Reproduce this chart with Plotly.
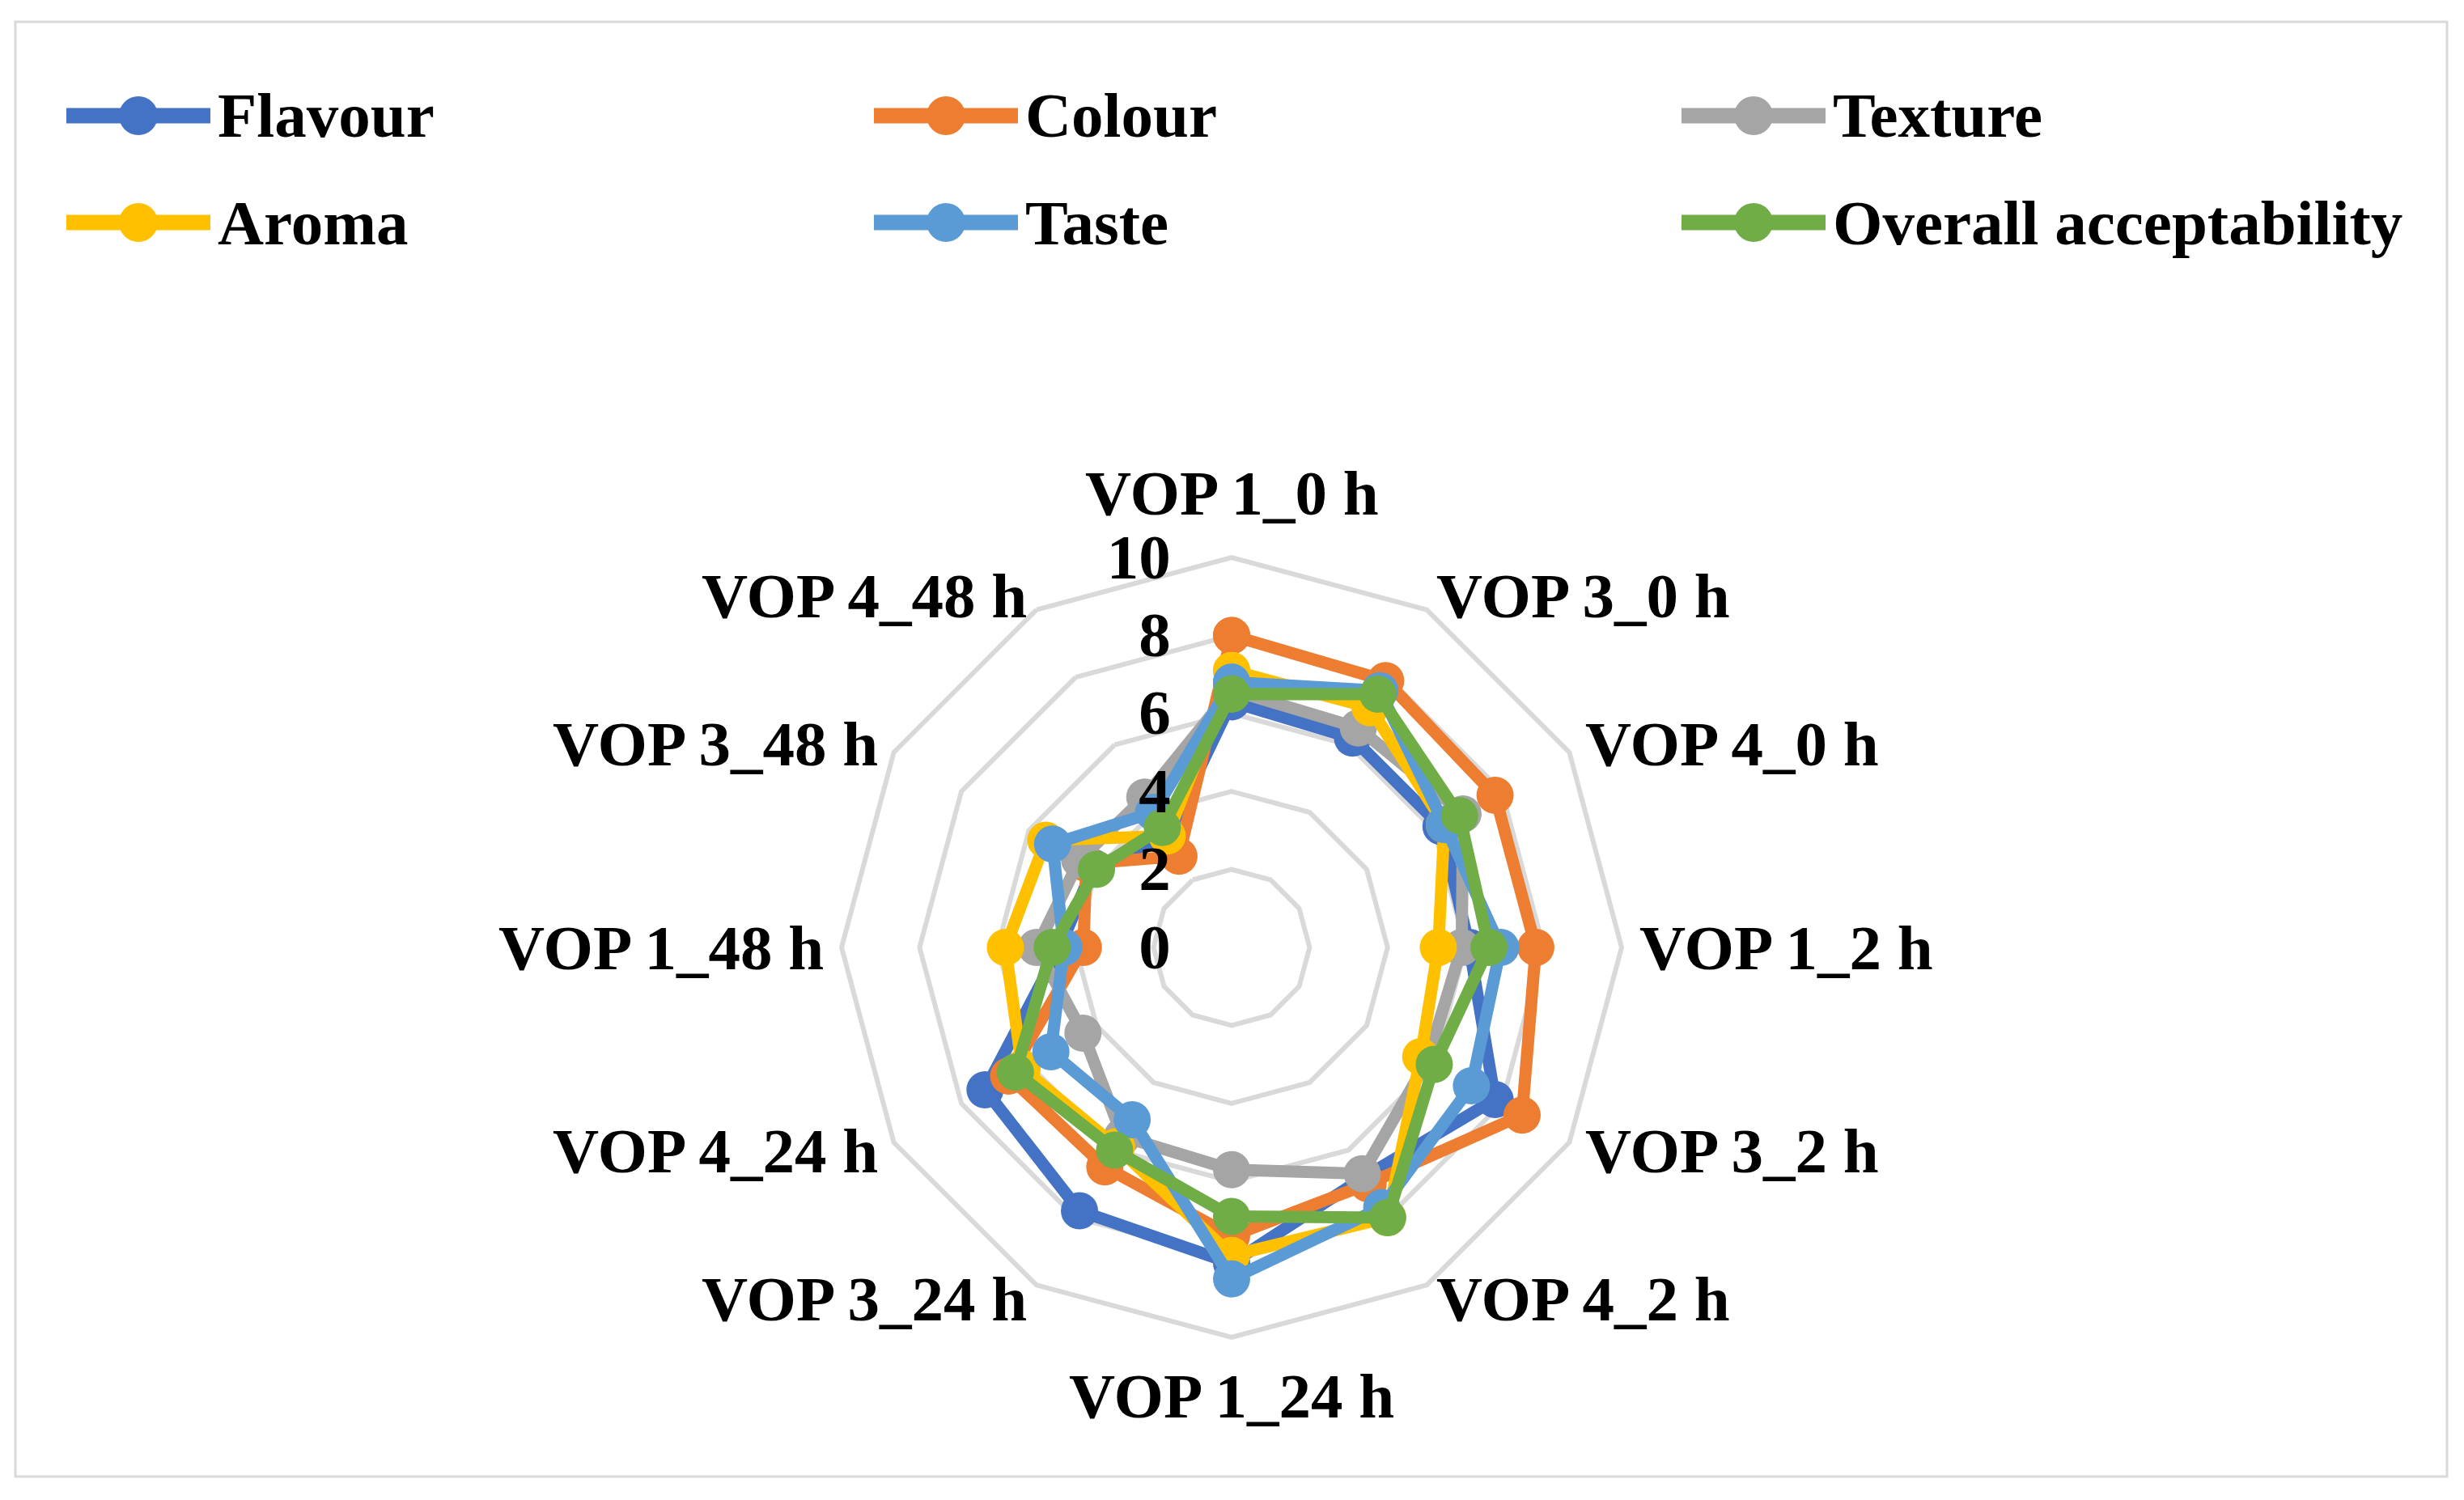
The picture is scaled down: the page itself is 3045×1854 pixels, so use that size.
import math
import plotly.graph_objects as go

categories = ["VOP 1_0 h", "VOP 3_0 h", "VOP 4_0 h", "VOP 1_2 h", "VOP 3_2 h", "VOP 4_2 h",
              "VOP 1_24 h", "VOP 3_24 h", "VOP 4_24 h", "VOP 1_48 h", "VOP 3_48 h", "VOP 4_48 h"]

flavour = [6.3, 6.2, 6.2, 6.1, 7.8, 6.8, 8.1, 7.8, 7.3, 4.4, 4.1, 3.3]
colour = [8.0, 7.9, 7.8, 7.8, 8.6, 7.0, 7.4, 6.5, 6.6, 3.8, 4.3, 2.7]
texture = [6.6, 6.5, 6.85, 5.9, 5.8, 6.7, 5.7, 5.6, 4.4, 5.0, 4.5, 4.45]
aroma = [7.1, 7.1, 6.3, 5.3, 5.6, 8.0, 7.9, 5.9, 6.2, 5.8, 5.5, 3.3]
taste = [6.8, 7.6, 6.3, 6.9, 7.1, 7.7, 8.5, 5.1, 5.35, 4.3, 5.3, 4.0]
overall = [6.5, 7.5, 6.75, 6.6, 6.0, 8.0, 6.9, 6.0, 6.4, 4.6, 4.0, 3.55]

series_names = ["Flavour", "Colour", "Texture", "Aroma", "Taste", "Overall acceptability"]
series_values = [flavour, colour, texture, aroma, taste, overall]
series_colors = ["#4472C4", "#ED7D31", "#A5A5A5", "#FFC000", "#5B9BD5", "#70AD47"]

radial_ticks = [0, 2, 4, 6, 8, 10]

W, H = 3045, 1854
OFF = 8  # page body margin
FONT = "Liberation Serif"
FS = 79
TXT = dict(family=FONT, size=FS, color="black", weight="bold")


def px(x):
    return (x - OFF) / W


def py(y):
    return 1 - (y - OFF) / H


fig = go.Figure()
for name, vals, col in zip(series_names, series_values, series_colors):
    fig.add_trace(go.Scatterpolar(
        r=vals + vals[:1], theta=categories + categories[:1],
        mode="lines+markers", name=name,
        line=dict(color=col, width=15),
        marker=dict(color=col, size=46),
        showlegend=False,
    ))

cx, cy, R = 1522, 1171, 482  # screen coords of the polar centre
fig.update_layout(
    width=W, height=H,
    margin=dict(l=0, r=0, t=0, b=0),
    paper_bgcolor="white",
    font=TXT,
    polar=dict(
        domain=dict(x=[px(cx - R), px(cx + R)], y=[py(cy + R), py(cy - R)]),
        bgcolor="white",
        gridshape="linear",
        radialaxis=dict(
            range=[0, 10], tickvals=radial_ticks, angle=90, tickangle=90, side="counterclockwise",
            showline=False, gridcolor="#D9D9D9", gridwidth=6,
            ticks="outside", ticklen=47, tickcolor="rgba(0,0,0,0)",
            tickfont=TXT,
        ),
        angularaxis=dict(
            rotation=90, direction="clockwise",
            showgrid=False, showline=True, linecolor="#D9D9D9", linewidth=6,
            ticks="", showticklabels=False,
        ),
    ),
)

# category labels around the chart
n = len(categories)
for i, cat in enumerate(categories):
    a = 2 * math.pi * i / n
    s, c = math.sin(a), -math.cos(a)
    vx, vy = cx + R * s, cy + R * c
    if abs(s) < 0.1:
        d = 80 if c < 0 else 72
        fig.add_annotation(xref="paper", yref="paper", x=px(vx), y=py(vy + d * c),
                           xanchor="center", yanchor="middle", showarrow=False,
                           text=cat, font=TXT)
    else:
        fig.add_annotation(xref="paper", yref="paper", x=px(vx + 20 * s), y=py(vy + 20 * c),
                           xanchor="left" if s > 0 else "right", yanchor="middle",
                           showarrow=False, text=cat, font=TXT)

# chart border
fig.add_shape(type="rect", xref="paper", yref="paper",
              x0=px(19), x1=px(3024), y0=py(1825), y1=py(27),
              line=dict(color="#D9D9D9", width=3), fillcolor="rgba(0,0,0,0)", layer="below")

# legend (2 rows x 3 columns)
col_x = [82, 1080, 2078]
row_y = [143, 275]
for i, (name, col) in enumerate(zip(series_names, series_colors)):
    x0 = col_x[i % 3]
    yy = row_y[i // 3]
    fig.add_shape(type="line", xref="paper", yref="paper",
                  x0=px(x0), x1=px(x0 + 178), y0=py(yy), y1=py(yy),
                  line=dict(color=col, width=19))
    fig.add_shape(type="circle", xref="paper", yref="paper",
                  xsizemode="pixel", ysizemode="pixel",
                  xanchor=px(x0 + 89), yanchor=py(yy),
                  x0=-24, x1=24, y0=-24, y1=24,
                  line=dict(color=col, width=0), fillcolor=col)
    fig.add_annotation(xref="paper", yref="paper", x=px(x0 + 185), y=py(yy),
                       xanchor="left", yanchor="middle", showarrow=False,
                       text=name, font=TXT)

fig.write_html("out.html")
